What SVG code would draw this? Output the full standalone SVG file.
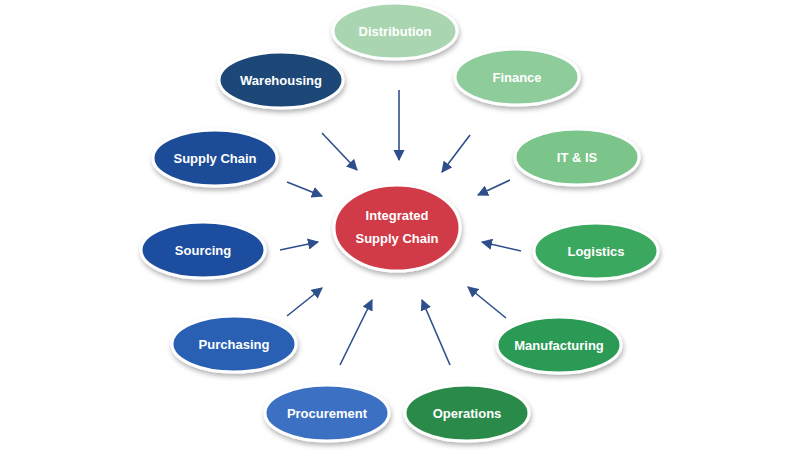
<svg xmlns="http://www.w3.org/2000/svg" width="800" height="451" viewBox="0 0 800 451">
<defs>
<filter id="sh" x="-20%" y="-20%" width="140%" height="150%"><feDropShadow dx="1" dy="3" stdDeviation="2.5" flood-color="#000" flood-opacity="0.3"/></filter>
<marker id="ah" viewBox="0 0 10 10" refX="9" refY="5" markerWidth="7" markerHeight="7" orient="auto"><path d="M0,0 L10,5 L0,10 z" fill="#2e4f8c"/></marker>
</defs>
<style>
.n{stroke:#fff;stroke-width:3;filter:url(#sh)}
.t{font-family:"Liberation Sans",Arial,sans-serif;font-weight:bold;font-size:13px;fill:#fff;text-anchor:middle}
.c{stroke:#2e4f8c;stroke-width:1.6;fill:none;marker-end:url(#ah)}
</style>
<rect width="800" height="451" fill="#fff"/>
<g id="connectors">
<line class="c" x1="399" y1="90" x2="399" y2="160"/>
<line class="c" x1="470" y1="135" x2="442" y2="172"/>
<line class="c" x1="322" y1="133" x2="357" y2="170"/>
<line class="c" x1="510" y1="180" x2="478" y2="195"/>
<line class="c" x1="287" y1="182" x2="322" y2="196"/>
<line class="c" x1="280" y1="250" x2="318" y2="242"/>
<line class="c" x1="521" y1="251" x2="482" y2="242"/>
<line class="c" x1="287" y1="316" x2="322" y2="288"/>
<line class="c" x1="506" y1="318" x2="468" y2="287"/>
<line class="c" x1="340" y1="365" x2="372" y2="300"/>
<line class="c" x1="450" y1="365" x2="422" y2="300"/>
</g>
<g id="center"><ellipse class="n" cx="397" cy="228" rx="63" ry="43" fill="#d13b47"/><text class="t" x="397" y="220">Integrated</text><text class="t" x="397" y="243">Supply Chain</text></g>
<g id="distribution"><ellipse class="n" cx="395" cy="31" rx="62" ry="28" fill="#a9d6b1"/><text class="t" x="395" y="36">Distribution</text></g>
<g id="finance"><ellipse class="n" cx="517" cy="77" rx="62" ry="28" fill="#8fcc9c"/><text class="t" x="517" y="82">Finance</text></g>
<g id="warehousing"><ellipse class="n" cx="281" cy="80" rx="62" ry="28" fill="#1a4677"/><text class="t" x="281" y="85">Warehousing</text></g>
<g id="itis"><ellipse class="n" cx="577" cy="157" rx="62" ry="28" fill="#7cc58a"/><text class="t" x="577" y="162">IT &amp; IS</text></g>
<g id="supplychain"><ellipse class="n" cx="215" cy="158" rx="62" ry="28" fill="#1f4c98"/><text class="t" x="215" y="163">Supply Chain</text></g>
<g id="sourcing"><ellipse class="n" cx="203" cy="250" rx="62" ry="28" fill="#1f4e9e"/><text class="t" x="203" y="255">Sourcing</text></g>
<g id="logistics"><ellipse class="n" cx="596" cy="251" rx="62" ry="28" fill="#3aa860"/><text class="t" x="596" y="256">Logistics</text></g>
<g id="purchasing"><ellipse class="n" cx="234" cy="344" rx="62" ry="28" fill="#2a60b3"/><text class="t" x="234" y="349">Purchasing</text></g>
<g id="manufacturing"><ellipse class="n" cx="559" cy="345" rx="62" ry="28" fill="#2a9a55"/><text class="t" x="559" y="350">Manufacturing</text></g>
<g id="procurement"><ellipse class="n" cx="327" cy="413" rx="62" ry="28" fill="#3a70c2"/><text class="t" x="327" y="418">Procurement</text></g>
<g id="operations"><ellipse class="n" cx="467" cy="413" rx="62" ry="28" fill="#2c8a4a"/><text class="t" x="467" y="418">Operations</text></g>
</svg>
